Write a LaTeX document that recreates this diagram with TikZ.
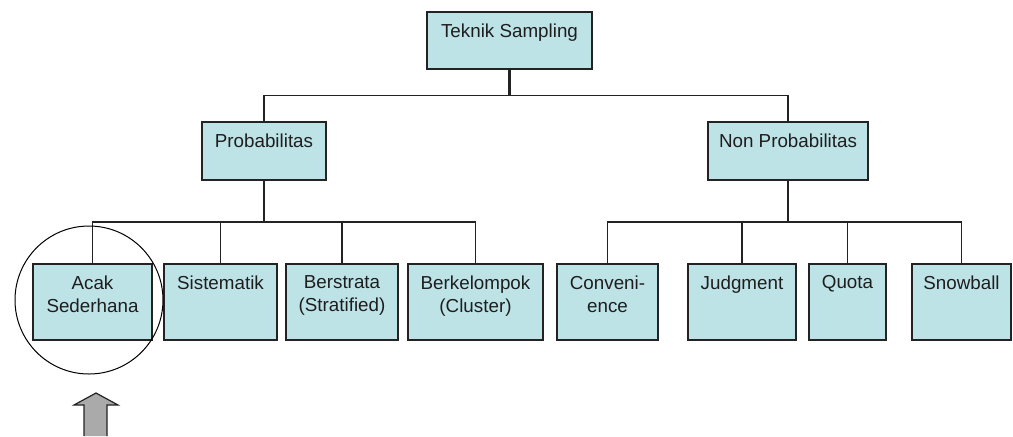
\documentclass[tikz,border=0pt]{standalone}
\usepackage{fontspec}
\setmainfont{Liberation Sans}
\usetikzlibrary{calc}
\definecolor{boxfill}{RGB}{190,227,231}
\definecolor{linegray}{RGB}{35,35,35}
\definecolor{textgray}{RGB}{30,30,30}
\definecolor{arrowgray}{RGB}{170,170,170}

\begin{document}
\begin{tikzpicture}[x=0.5pt, y=-0.5pt,
		box/.style={draw=linegray, line width=0.85pt, fill=boxfill, inner sep=0pt},
		lbl/.style={anchor=north, yshift=-6pt, inner sep=0pt, align=center,
			font=\fontsize{9.4}{11.5}\selectfont, text=textgray},
		conn/.style={draw=linegray, line width=0.85pt},
		stem/.style={draw=linegray, line width=1.2pt}]
		\useasboundingbox (0,0) rectangle (1013,436);

		% level 0
		\node[box, minimum width=82.5pt, minimum height=28.5pt] (root) at (509.5,40.5) {};
		\node[lbl] (rootlbl) at (root.north) {Teknik Sampling};

		% level 1
		\node[box, minimum width=62pt, minimum height=29pt] (prob) at (264,151) {};
		\node[lbl] (problbl) at (prob.north) {Probabilitas};
		\node[box, minimum width=80pt, minimum height=29pt] (nonprob) at (788,151) {};
		\node[lbl] (nonproblbl) at (nonprob.north) {Non Probabilitas};

		% level 2
		\node[box, minimum width=59.5pt, minimum height=38pt] (acak) at (92.5,302) {};
		\node[lbl] (acaklbl) at (acak.north) {Acak\\Sederhana};
		\node[box, minimum width=56.5pt, minimum height=38pt] (sist) at (220.5,302) {};
		\node[lbl] (sistlbl) at (sist.north) {Sistematik};
		\node[box, minimum width=56pt, minimum height=38pt] (strata) at (342,302) {};
		\node[lbl] (stratalbl) at (strata.north) {Berstrata\\(Stratified)};
		\node[box, minimum width=67.5pt, minimum height=38pt] (klaster) at (475.5,302) {};
		\node[lbl] (klasterlbl) at (klaster.north) {Berkelompok\\(Cluster)};

		\node[box, minimum width=50.5pt, minimum height=38pt] (conv) at (607.5,302) {};
		\node[lbl] (convlbl) at (conv.north) {Conveni-\\ence};
		\node[box, minimum width=54pt, minimum height=38pt] (judg) at (742,302) {};
		\node[lbl] (judglbl) at (judg.north) {Judgment};
		\node[box, minimum width=38.5pt, minimum height=38pt] (quota) at (847.5,302) {};
		\node[lbl] (quotalbl) at (quota.north) {Quota};
		\node[box, minimum width=49.5pt, minimum height=38pt] (snow) at (961.5,302) {};
		\node[lbl] (snowlbl) at (snow.north) {Snowball};

		% connectors
		\draw[stem] (root.south) -- ($(root.south)!.5!(root.south |- prob.north)$) coordinate (rootbus);
		\foreach \c in {prob,nonprob}
			\draw[conn] (rootbus) -| (\c.north);

		\draw[stem] (prob.south) -- ($(prob.south)!.5!(prob.south |- acak.north)$) coordinate (probbus);
		\foreach \c in {acak,sist,strata,klaster}
			\draw[conn] (probbus) -| (\c.north);

		\draw[stem] (nonprob.south) -- ($(nonprob.south)!.5!(nonprob.south |- conv.north)$) coordinate (nonprobbus);
		\foreach \c in {conv,judg,quota,snow}
			\draw[conn] (nonprobbus) -| (\c.north);

		% mark on Acak Sederhana
		\node[draw=black, circle, line width=0.5pt, minimum size=74pt, inner sep=0pt] (focus) at (89,300) {};
		\filldraw[fill=arrowgray, draw=linegray, line width=0.6pt]
			(84,436) -- (84,405) -- (74,405) -- (96,393) -- (118,405) -- (107,405) -- (107,436);
\end{tikzpicture}
\end{document}
